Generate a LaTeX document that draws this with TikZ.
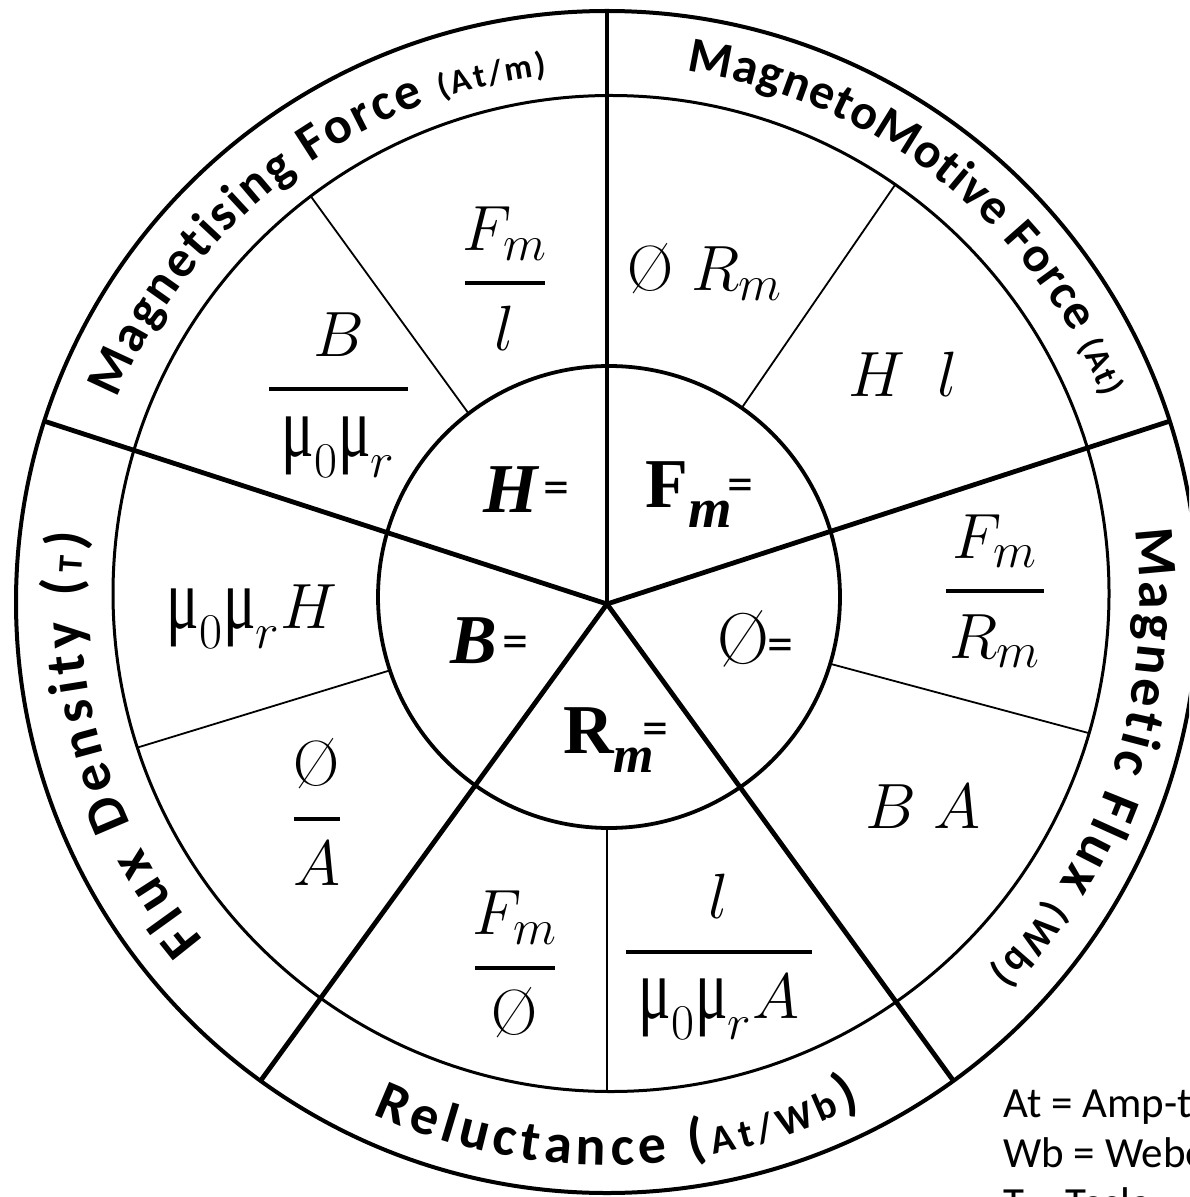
\RequirePackage{fix-cm}
\documentclass[tikz,border=0pt]{standalone}
\usepackage{amsmath}
\usepackage{fontspec}
\usepackage{bm}
\usepackage{graphicx}
\newfontfamily\lblfont{Carlito}
\newfontfamily\notefont{Carlito}
\newfontfamily\grk{Liberation Serif}
\usetikzlibrary{decorations.text,calc}
\DeclareMathSizes{32}{32}{25}{20}
\newcommand\lblA{\lblfont\bfseries\fontsize{25}{30}\selectfont}
\newcommand\lblB{\lblfont\bfseries\fontsize{26}{30}\selectfont}
\newcommand\lblC{\lblfont\bfseries\fontsize{28}{30}\selectfont}
\newcommand\lblsmall{\lblfont\bfseries\fontsize{17}{20}\selectfont}
\newcommand\lblmid{\lblfont\bfseries\fontsize{20}{22}\selectfont}
\newcommand\mup{\mbox{\grk\scalebox{0.95}[1.35]{μ}}}
\newcommand\slo{\mbox{Ø}}
\newcommand\bsub[2]{\raisebox{#1}{\grk\bfseries\itshape\fontsize{#2}{#2}\selectfont m}}
\tikzset{
  outerring/.style={line width=2pt},
  midring/.style={line width=1.5pt},
  innerring/.style={line width=1.9pt},
  spoke/.style={line width=2.4pt},
  fine/.style={line width=0.9pt},
  fbar/.style={line width=2pt},
  fml/.style={inner sep=0pt, font=\fontsize{32}{36}\selectfont},
  ctr/.style={inner sep=0pt, anchor=base west, font=\grk\bfseries\fontsize{35}{40}\selectfont},
  eqs/.style={inner sep=0pt, anchor=base, font=\notefont\fontsize{26}{30}\selectfont},
  note/.style={inner sep=0pt, anchor=base west, font=\notefont\fontsize{21.5}{24}\selectfont},
  arctext/.style={decorate, decoration={text along path, text align={fit to path}, text={#1}}}
}
\newcommand\frc[6]{%
  \node[fml,anchor=base] (#1n) at (#2,-#3+33) {$#5$};
  \draw[fbar] (#2-#4,-#3) -- (#2+#4,-#3);
  \node[fml,anchor=base] (#1d) at (#2,-#3-67) {$#6$};}
\begin{document}
\begin{tikzpicture}[x=0.5pt,y=0.5pt]
\useasboundingbox (0,0) rectangle (1189,-1197);
\fill[white] (0,0) rectangle (1189,-1197);
\clip (0,0) rectangle (1189,-1197);
\coordinate (O) at (607,-602);
\coordinate (C) at (607,-604);
% rings
\draw[outerring] (O) circle[radius=591];
\draw[midring] (611,-593.5) circle[radius=498];
\draw[innerring] (609,-597) circle[radius=231];
% spokes
\foreach \a/\r in {90/592,162/590.6,234/588.4,306/588.4,18/590.6}
  \draw[spoke] (C) -- ($(C)+(\a:\r)$);
% thin dividers
\foreach \a/\ri/\ro in {55.5/237.9/508.9,126/235.4/504,197/227/491,270/224/487.5,345/231/499}
  \draw[fine] ($(C)+(\a:\ri)$) -- ($(C)+(\a:\ro)$);
% arc labels
\path[arctext={|\lblB|Magnetising Force |\lblsmall|(At/m)}]
  ($(O)+(157.5:530)$) arc[start angle=157.5, end angle=96.5, radius=530];
\path[arctext={|\lblA|MagnetoMotive Force |\lblsmall|(At)}]
  ($(O)+(81.5:537)$) arc[start angle=81.5, end angle=22.5, radius=537];
\path[arctext={|\lblC|Magnetic Flux |\lblmid|(Wb)}]
  ($(O)+(7.8:533)$) arc[start angle=7.8, end angle=-44, radius=533];
\path[arctext={|\lblC|Flux Density (|\lblsmall|T|\lblC|)}]
  ($(O)+(220:526)$) arc[start angle=220, end angle=172.5, radius=526];
\path[arctext={|\lblC|Reluctance (|\lblmid|At/Wb|\lblC|)}]
  ($(O)+(245.4:563)$) arc[start angle=245.4, end angle=296.8, radius=563];
% formulas
\frc{fa}{505}{283.5}{40}{F_m}{l}
\frc{fb}{338.5}{389.5}{69.5}{B}{\mup_0\mup_r}
\frc{fc}{995}{591}{49}{F_m}{R_m}
\frc{fd}{719}{951.5}{93}{l}{\mup_0\mup_r A}
\frc{fe}{515}{967.5}{40}{F_m}{\slo}
\frc{ff}{317}{818.5}{23}{\slo}{A}
\node[fml,anchor=base] (fg) at (705,-291) {$\slo\;R_m$};
\node[fml,anchor=base] (fh) at (903,-396) {$H\enspace l$};
\node[fml,anchor=base] (fi) at (923,-828) {$B\;A$};
\node[fml,anchor=base] (fj) at (252,-628) {$\mup_0\mup_r H$};
% centre labels
\node[ctr] (cH) at (483,-512) {\itshape H};
\node[eqs] (cHe) at (556,-504) {=};
\node[ctr] (cF) at (645,-507) {F\bsub{-10pt}{28}};
\node[eqs] (cFe) at (740.5,-501) {=};
\node[ctr] (cB) at (450,-663) {\itshape B};
\node[eqs] (cBe) at (515.5,-658) {=};
\node[ctr,font=\fontsize{36}{40}\selectfont] (cP) at (717,-663) {Ø};
\node[eqs] (cPe) at (780.5,-661) {=};
\node[ctr] (cR) at (563,-753) {R\bsub{-9.5pt}{26}};
\node[eqs] (cRe) at (655.5,-745) {=};
% notes
\node[note] (n1) at (1003,-1117) {At = Amp-turns};
\node[note] (n2) at (1003,-1167) {Wb = Weber};
\node[note] (n3) at (1003,-1217) {T = Tesla};
\end{tikzpicture}
\end{document}
